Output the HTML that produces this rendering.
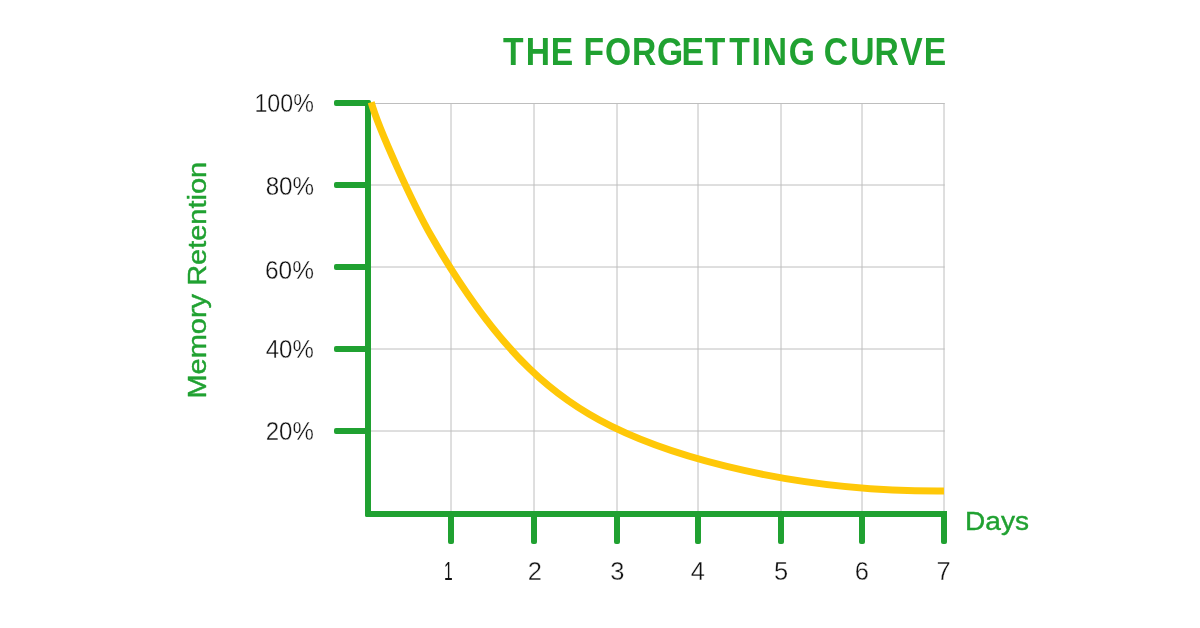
<!DOCTYPE html>
<html lang="en">
<head>
<meta charset="utf-8">
<title>The Forgetting Curve</title>
<style>
html,body{margin:0;padding:0;background:#fff;}
body{width:1200px;height:628px;overflow:hidden;font-family:"Liberation Sans",sans-serif;}
svg{display:block;}
text{font-family:"Liberation Sans",sans-serif;}
.g{stroke:#bebebe;stroke-width:1;fill:none;}
.lbl text{fill:#111;stroke:#fff;stroke-width:0.35px;}
.grn text{fill:#20a131;stroke:#20a131;stroke-width:0.4px;}
.ttl text{fill:#20a131;font-weight:bold;}
</style>
</head>
<body>
<svg width="1200" height="628" viewBox="0 0 1200 628">
<rect width="1200" height="628" fill="#fff"/>
<!-- grid -->
<g class="g">
<path d="M451 103V514M534 103V514M617 103V514M698 103V514M781 103V514M862 103V514M944 103V514"/>
<path d="M368 103.5H944.7M368 185H944.7M368 267H944.7M368 349H944.7M368 431H944.7"/>
</g>
<!-- axes -->
<g fill="#20a131">
<rect x="334" y="100" width="36" height="6" rx="2"/>
<rect x="334" y="182" width="36" height="6" rx="2"/>
<rect x="334" y="264" width="36" height="6" rx="2"/>
<rect x="334" y="346" width="36" height="6" rx="2"/>
<rect x="334" y="428" width="36" height="6" rx="2"/>
<rect x="448" y="513" width="6" height="31" rx="2"/>
<rect x="531" y="513" width="6" height="31" rx="2"/>
<rect x="614" y="513" width="6" height="31" rx="2"/>
<rect x="695" y="513" width="6" height="31" rx="2"/>
<rect x="778" y="513" width="6" height="31" rx="2"/>
<rect x="859" y="513" width="6" height="31" rx="2"/>
<rect x="365" y="100" width="6" height="417" rx="2"/>
<rect x="365" y="511" width="582" height="6" rx="2"/>
<rect x="941" y="511" width="6" height="33" rx="2"/>
<rect x="941" y="511" width="6" height="6"/>
</g>
<!-- curve -->
<path id="curve" d="M371.2 102.3C378.5 128.7 412.8 203.8 431.7 236.8C503.0 360.8 561.7 401.7 611.2 426.2C673.1 456.8 792.7 492.0 944.0 491.0" fill="none" stroke="#ffc808" stroke-width="7"/>
<!-- title -->
<g class="ttl">
<text transform="scale(0.88 1)" y="65" font-size="38.2" x="571.6 597.5 625.9 650.9 663.0 687.4 718.3 746.5 774.4 800.8 828.6 853.9 866.8 896.3 921.3 936.2 966.3 993.8 1023.1 1049.6">THE FORGETTING CURVE</text>
</g>
<!-- y labels -->
<g class="lbl">
<text x="254.41" y="112.00" font-size="25.50" textLength="59.45" lengthAdjust="spacingAndGlyphs">100%</text>
<text x="265.64" y="195.30" font-size="25.50" textLength="48.44" lengthAdjust="spacingAndGlyphs">80%</text>
<text x="265.01" y="278.90" font-size="25.50" textLength="49.01" lengthAdjust="spacingAndGlyphs">60%</text>
<text x="265.75" y="358.00" font-size="25.50" textLength="48.06" lengthAdjust="spacingAndGlyphs">40%</text>
<text x="265.71" y="439.60" font-size="25.50" textLength="48.12" lengthAdjust="spacingAndGlyphs">20%</text>
</g>
<!-- x labels -->
<g class="lbl">
<text x="444.12" y="580.00" font-size="25.50" textLength="8.69" lengthAdjust="spacingAndGlyphs" style="stroke:none">1</text>
<text x="527.84" y="580.00" font-size="25.50">2</text>
<text x="610.37" y="580.00" font-size="25.50">3</text>
<text x="690.82" y="580.00" font-size="25.50">4</text>
<text x="773.93" y="580.00" font-size="25.50">5</text>
<text x="854.87" y="580.00" font-size="25.50">6</text>
<text x="936.62" y="580.00" font-size="25.50">7</text>
</g>
<g class="grn">
<text x="965.03" y="529.50" font-size="26.20" textLength="63.93" lengthAdjust="spacingAndGlyphs">Days</text>
<text transform="translate(205.70 398.60) rotate(-90)" font-size="25.00" textLength="236.83" lengthAdjust="spacingAndGlyphs">Memory Retention</text>
</g>
</svg>
</body>
</html>
